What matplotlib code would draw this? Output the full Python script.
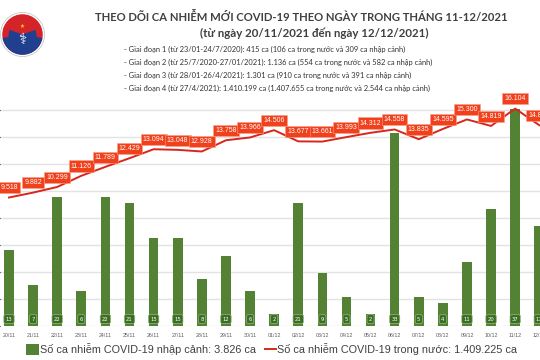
import numpy as np
import matplotlib.pyplot as plt
from matplotlib.patches import Patch, Circle, Wedge
from matplotlib.lines import Line2D

days = ["20/11", "21/11", "22/11", "23/11", "24/11", "25/11", "26/11", "27/11",
        "28/11", "29/11", "30/11", "01/12", "02/12", "03/12", "04/12", "05/12",
        "06/12", "07/12", "08/12", "09/12", "10/12", "11/12", "12/12"]
imported = [13, 7, 22, 6, 22, 21, 15, 15, 8, 12, 6, 2, 21, 9, 5, 2, 33, 5, 4, 11, 20, 37, 17]
domestic = [9518, 9882, 10299, 11126, 11789, 12429, 13094, 13048, 12928, 13758, 13966,
            14506, 13677, 13661, 13993, 14312, 14558, 13835, 14595, 15300, 14819, 16104, 14873]

title = "THEO DÕI CA NHIỄM MỚI COVID-19 THEO NGÀY TRONG THÁNG 11-12/2021"
subtitle = "(từ ngày 20/11/2021 đến ngày 12/12/2021)"
phases = [
    "- Giai đoạn 1 (từ 23/01-24/7/2020): 415 ca (106 ca trong nước và 309 ca nhập cảnh)",
    "- Giai đoạn 2 (từ 25/7/2020-27/01/2021): 1.136 ca (554 ca trong nước và 582 ca nhập cảnh)",
    "- Giai đoạn 3 (từ 28/01-26/4/2021): 1.301 ca (910 ca trong nước và 391 ca nhập cảnh)",
    "- Giai đoạn 4 (từ 27/4/2021): 1.410.199 ca (1.407.655 ca trong nước và 2.544 ca nhập cảnh)",
]
legend_bar = "Số ca nhiễm COVID-19 nhập cảnh: 3.826 ca"
legend_line = "Số ca nhiễm COVID-19 trong nước: 1.409.225 ca"

GREEN = "#548235"
RED = "#D9261C"
LABEL_RED = "#F0401C"
TXT = "#404040"


def fmt(v):
    return f"{v:,}".replace(",", ".")


fig = plt.figure(figsize=(5.4, 3.6), dpi=100)
fig.patch.set_facecolor("white")

x = np.arange(len(days))
ax = fig.add_axes([0, 34 / 360, 1, 243 / 360])
ax.set_xlim(-0.373, 22.03)
ax.set_ylim(0, 41.5)
ax.set_yticks(np.linspace(0, 41.5, 10)[:-1])
ax.yaxis.grid(True, color="#E3E3E3", lw=1)
ax.set_axisbelow(True)
ax.bar(x, imported, width=0.4, color=GREEN, zorder=2)
for xi, v in zip(x, imported):
    ax.annotate(str(v), (xi, 0), xytext=(0, 5), textcoords="offset points",
                ha="center", va="center", fontsize=3.8, color="white", zorder=3,
                bbox=dict(boxstyle="round,pad=0.35,rounding_size=0.3", fc="#3E6B27",
                          ec="#8CC070", lw=0.5))
ax.set_xticks(x)
ax.set_xticklabels(days, fontsize=3.8, color="#595959", family="Liberation Sans")
ax.tick_params(axis="x", length=0, pad=5)
ax.tick_params(axis="y", left=False, labelleft=False)
for s in ax.spines.values():
    s.set_visible(False)

ax2 = ax.twinx()
ax2.set_ylim(0, 18000)
ax2.plot(x, domestic, color=RED, lw=1.4, zorder=3)
for xi, v in zip(x, domestic):
    ax2.annotate(fmt(v), (xi, v), xytext=(0, 7), textcoords="offset points",
                 ha="center", va="center", fontsize=5.0, color="white",
                 family="Liberation Sans",
                 bbox=dict(boxstyle="square,pad=0.3", fc=LABEL_RED, ec="#F7A08A", lw=0.4))
ax2.set_yticks([])
for s in ax2.spines.values():
    s.set_visible(False)

# header
fig.text(301 / 540, 1 - 17 / 360, title, ha="center", va="center", fontsize=8.1,
         color=TXT, family="Lato", weight="bold")
fig.text(314 / 540, 1 - 33 / 360, subtitle, ha="center", va="center", fontsize=8.3,
         color=TXT, family="Lato", weight="bold")
for i, line in enumerate(phases):
    fig.text(124 / 540, 1 - (49 + 13.3 * i) / 360, line, ha="left", va="center",
             fontsize=5.4, color="#333333", family="Lato")

# logo
logo = fig.add_axes([0, 1 - 62 / 360, 45 / 540, 55 / 360])
logo.set_xlim(-1, 1)
logo.set_ylim(-1.22, 1.22)
logo.set_aspect("equal")
logo.axis("off")
logo.add_patch(Circle((0, 0), 0.98, fc="white", ec="#B0B0B0", lw=0.4))
logo.add_patch(Circle((0, 0), 0.9, fc="#D4242A"))
logo.add_patch(Wedge((0, 0), 0.9, 190, 350, fc="#203F8E"))
logo.add_patch(Circle((0, -0.05), 0.62, fc="#203F8E"))
logo.add_patch(Wedge((0, 0), 0.62, 20, 160, fc="#D4242A"))
logo.text(0, 0.35, "★", ha="center", va="center", fontsize=4, color="#F5D300")
logo.text(0, -0.2, "⚕", ha="center", va="center", fontsize=11, color="white",
          family="DejaVu Sans")

leg_font = {"family": "Liberation Sans", "size": 7.8}
fig.legend([Patch(facecolor=GREEN)], [legend_bar], loc="center left",
           bbox_to_anchor=(16 / 540, 11 / 360), frameon=False, prop=leg_font,
           handlelength=1.2, handleheight=1.2, handletextpad=0.15, labelcolor=TXT)
fig.legend([Line2D([0], [0], color=RED, lw=1.4)], [legend_line], loc="center left",
           bbox_to_anchor=(255 / 540, 11 / 360), frameon=False, prop=leg_font,
           handlelength=1.0, handletextpad=0.15, labelcolor=TXT)

fig.savefig("out.png", dpi=100)
